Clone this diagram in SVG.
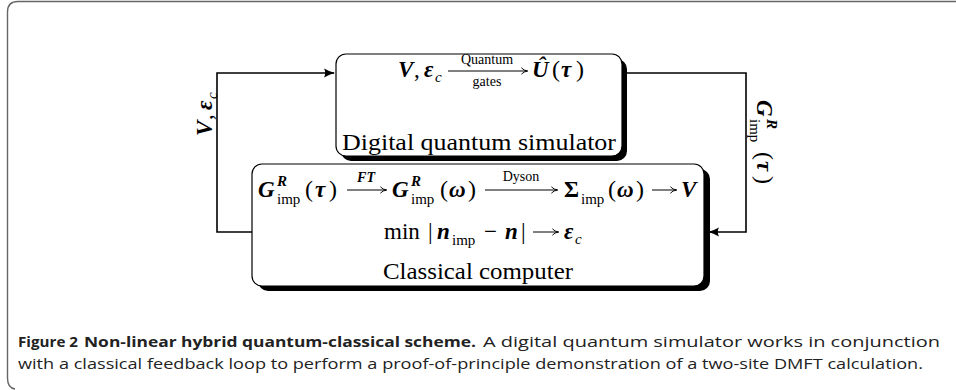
<svg xmlns="http://www.w3.org/2000/svg" width="956" height="390" viewBox="0 0 956 390">
<defs>
<style>
.m{font-family:"Liberation Serif","DejaVu Serif",serif;fill:#000;font-size:23px}
.bi{font-weight:bold;font-style:italic}
.bf{font-weight:bold}
.s{font-size:15px}
.q{font-size:14px}
.it{font-style:italic}
.p{font-size:24px}
.cap{font-family:"Open Sans","Noto Sans","Liberation Sans",sans-serif;fill:#222;font-size:15px}
.capb{font-weight:bold}
.box{fill:#fff;stroke:#000;stroke-width:1.2}
.sh{fill:#000}
.ln{fill:none;stroke:#000;stroke-width:1.6}
.ma{fill:none;stroke:#000;stroke-width:1}
</style>
<marker id="ah" viewBox="0 0 10 10" refX="9" refY="5" markerWidth="11" markerHeight="11" markerUnits="userSpaceOnUse" orient="auto">
<path d="M0,1 Q5,4 10,5 Q5,6 0,9 Q2,5 0,1Z" fill="#000"/>
</marker>
<marker id="mh" viewBox="0 0 10 10" refX="9" refY="5" markerWidth="8" markerHeight="8" markerUnits="userSpaceOnUse" orient="auto">
<path d="M2,1 Q5,4.5 10,5 Q5,5.5 2,9" fill="none" stroke="#000" stroke-width="1.2"/>
</marker>
</defs>
<path d="M956,1.5 H18 Q7.5,1.5 7.5,12 V378 Q7.5,388 15,389" fill="none" stroke="#666" stroke-width="1.4"/>

<g id="connectors">
<path class="ln" d="M252,232 H217 V73 H334" marker-end="url(#ah)"/>
<path class="ln" d="M627,73 H746 V232 H709" marker-end="url(#ah)"/>
<g transform="translate(212,136) rotate(-90)">
<text class="m bi" x="0" y="0">V</text>
<text class="m" x="16" y="0">,</text>
<text class="m bi" x="26" y="0">ε</text>
<text class="m s it" x="37" y="5">c</text>
</g>
<g transform="translate(757,100) rotate(90)">
<text class="m bi" x="0" y="0">G</text>
<text class="m bi s" x="19" y="-10">R</text>
<text class="m s" x="19" y="7">imp</text>
<text class="m p" x="52" y="0">(</text>
<text class="m bi" x="61" y="0">τ</text>
<text class="m p" x="76" y="0">)</text>
</g>
</g>

<g id="quantum">
<rect class="sh" x="341" y="59" width="286" height="102" rx="10"/>
<rect class="box" x="336" y="54" width="286" height="102" rx="10"/>
<text class="m bi" x="398" y="77">V</text>
<text class="m" x="414" y="77">,</text>
<text class="m bi" x="424" y="77">ε</text>
<text class="m s it" x="435" y="82">c</text>
<line class="ma" x1="448" y1="71" x2="527" y2="71" marker-end="url(#mh)"/>
<text class="m q" x="487" y="64" text-anchor="middle">Quantum</text>
<text class="m q" x="487" y="86" text-anchor="middle">gates</text>
<text class="m bi" x="532" y="77">Û</text>
<text class="m p" x="552" y="77">(</text>
<text class="m bi" x="561" y="77">τ</text>
<text class="m p" x="576" y="77">)</text>
<text class="m" x="479" y="150" text-anchor="middle" textLength="274" lengthAdjust="spacingAndGlyphs">Digital quantum simulator</text>
</g>

<g id="classical">
<rect class="sh" x="258" y="169" width="452" height="122" rx="10"/>
<rect class="box" x="252" y="164" width="452" height="122" rx="10"/>
<text class="m bi" x="258" y="197">G</text>
<text class="m bi s" x="277" y="186">R</text>
<text class="m s" x="277" y="204">imp</text>
<text class="m p" x="305" y="197">(</text>
<text class="m bi" x="315" y="197">τ</text>
<text class="m p" x="329" y="197">)</text>
<line class="ma" x1="347" y1="190" x2="386" y2="190" marker-end="url(#mh)"/>
<text class="m bi q" x="366" y="182" text-anchor="middle">FT</text>
<text class="m bi" x="392" y="197">G</text>
<text class="m bi s" x="411" y="186">R</text>
<text class="m s" x="411" y="204">imp</text>
<text class="m p" x="440" y="197">(</text>
<text class="m bi" x="449" y="197">ω</text>
<text class="m p" x="468" y="197">)</text>
<line class="ma" x1="485" y1="190" x2="557" y2="190" marker-end="url(#mh)"/>
<text class="m q" x="521" y="181" text-anchor="middle">Dyson</text>
<text class="m bf" x="564" y="197">Σ</text>
<text class="m s" x="581" y="204">imp</text>
<text class="m p" x="608" y="197">(</text>
<text class="m bi" x="617" y="197">ω</text>
<text class="m p" x="636" y="197">)</text>
<line class="ma" x1="652" y1="190" x2="676" y2="190" marker-end="url(#mh)"/>
<text class="m bi" x="681" y="197">V</text>
<text class="m" x="384" y="239">min</text>
<text class="m" x="428" y="239">|</text>
<text class="m bi" x="437" y="239">n</text>
<text class="m s" x="452" y="245">imp</text>
<text class="m" x="484" y="239">−</text>
<text class="m bi" x="505" y="239">n</text>
<text class="m" x="521" y="239">|</text>
<line class="ma" x1="533" y1="232" x2="558" y2="232" marker-end="url(#mh)"/>
<text class="m bi" x="564" y="239">ε</text>
<text class="m s it" x="575" y="244">c</text>
<text class="m" x="478" y="279" text-anchor="middle" textLength="190" lengthAdjust="spacingAndGlyphs">Classical computer</text>
</g>

<g id="caption">
<text class="cap capb" x="18" y="347" textLength="60" lengthAdjust="spacingAndGlyphs">Figure 2</text>
<text class="cap capb" x="84" y="347" textLength="392" lengthAdjust="spacingAndGlyphs">Non-linear hybrid quantum-classical scheme.</text>
<text class="cap" x="483" y="347" textLength="457" lengthAdjust="spacingAndGlyphs">A digital quantum simulator works in conjunction</text>
<text class="cap" x="18" y="369" textLength="905" lengthAdjust="spacingAndGlyphs">with a classical feedback loop to perform a proof-of-principle demonstration of a two-site DMFT calculation.</text>
</g>
</svg>
